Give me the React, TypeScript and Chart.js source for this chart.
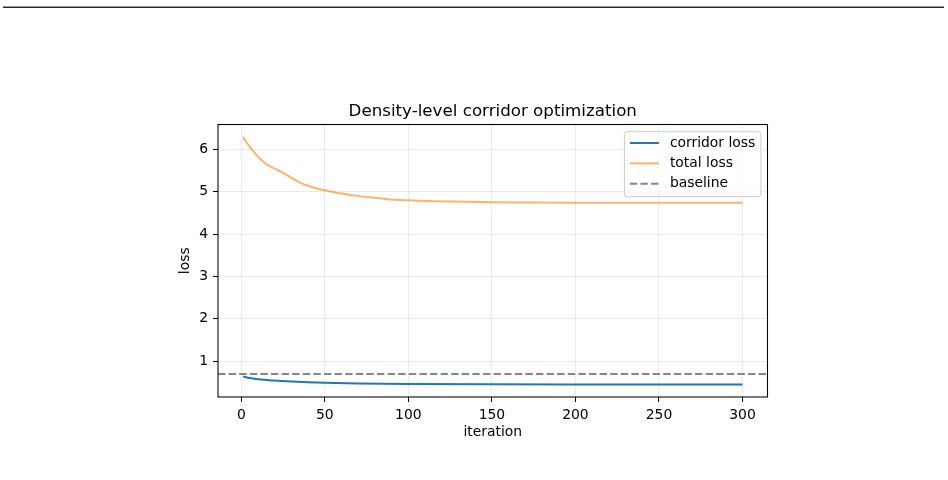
import React, { useEffect, useRef } from "react";
import { Chart, registerables } from "chart.js";

Chart.register(...registerables);

const TITLE = "Density-level corridor optimization";
const X_LABEL = "iteration";
const Y_LABEL = "loss";
const X_TICKS = [0, 50, 100, 150, 200, 250, 300];
const Y_TICKS = [1, 2, 3, 4, 5, 6];

const SERIES_NAMES = ["corridor loss", "total loss", "baseline"];

// corridor loss, sampled iterations
const CORRIDOR_ITERS = [1, 5, 10, 15, 20, 30, 40, 50, 70, 100, 150, 200, 250, 300];
const CORRIDOR_LOSS = [0.64, 0.6, 0.572, 0.555, 0.54, 0.518, 0.5, 0.488, 0.473, 0.461, 0.452, 0.448, 0.446, 0.445];

// total loss, sampled iterations
const TOTAL_ITERS = [1, 3, 5, 7, 10, 13, 16, 20, 25, 30, 33, 36, 41, 45, 51, 60, 70, 80, 90, 100, 110, 125, 150, 175, 200, 250, 300];
const TOTAL_LOSS = [6.3, 6.18, 6.07, 5.97, 5.83, 5.72, 5.63, 5.55, 5.45, 5.33, 5.26, 5.2, 5.13, 5.08, 5.03, 4.96, 4.9, 4.86, 4.82, 4.8, 4.785, 4.77, 4.755, 4.748, 4.744, 4.742, 4.742];

const BASELINE = 0.693;

const FONT = "DejaVu Sans";
const LABEL_SIZE = 13.9;
const TITLE_SIZE = 16.7;
const COLORS = ["#1f77b4", "rgba(255,127,14,0.6)", "rgba(128,128,128,0.95)"];
const DASH = [7.4, 3.2];

function paddedRange(values: number[]): [number, number] {
  const lo = Math.min(...values);
  const hi = Math.max(...values);
  const m = (hi - lo) * 0.05;
  return [lo - m, hi + m];
}

const [X_MIN, X_MAX] = paddedRange([...CORRIDOR_ITERS, ...TOTAL_ITERS]);
const [Y_MIN, Y_MAX] = paddedRange([...CORRIDOR_LOSS, ...TOTAL_LOSS, BASELINE]);

// axes title centred over the plotting area
const titlePlugin = {
  id: "axesTitle",
  afterDraw(chart: any) {
    const { ctx, chartArea: a } = chart;
    ctx.save();
    ctx.font = `${TITLE_SIZE}px "${FONT}"`;
    ctx.fillStyle = "#000";
    ctx.textAlign = "center";
    ctx.textBaseline = "alphabetic";
    ctx.fillText(TITLE, (a.left + a.right) / 2, a.top - 9);
    ctx.restore();
  },
};

const framePlugin = {
  id: "frame",
  afterDatasetsDraw(chart: any) {
    const { ctx, chartArea: a } = chart;
    ctx.save();
    ctx.strokeStyle = "#000";
    ctx.lineWidth = 1.07;
    ctx.strokeRect(a.left, a.top, a.right - a.left, a.bottom - a.top);
    ctx.restore();
  },
};

const legendPlugin = {
  id: "insideLegend",
  afterDraw(chart: any) {
    const { ctx, chartArea: a } = chart;
    ctx.save();
    ctx.font = `${LABEL_SIZE}px "${FONT}"`;
    const textW = Math.max(...SERIES_NAMES.map((t) => ctx.measureText(t).width));
    const pad = 5.5;
    const handleLen = 29;
    const handlePad = 11;
    const rowH = 20.4;
    const w = pad + handleLen + handlePad + textW + pad;
    const h = 65;
    const right = a.right - 6.67;
    const top = a.top + 7.2;
    const left = right - w;
    const r = 2.7;
    ctx.beginPath();
    ctx.moveTo(left + r, top);
    ctx.lineTo(right - r, top);
    ctx.arcTo(right, top, right, top + r, r);
    ctx.lineTo(right, top + h - r);
    ctx.arcTo(right, top + h, right - r, top + h, r);
    ctx.lineTo(left + r, top + h);
    ctx.arcTo(left, top + h, left, top + h - r, r);
    ctx.lineTo(left, top + r);
    ctx.arcTo(left, top, left + r, top, r);
    ctx.closePath();
    ctx.fillStyle = "rgba(255,255,255,0.8)";
    ctx.fill();
    ctx.strokeStyle = "#cccccc";
    ctx.lineWidth = 1;
    ctx.stroke();

    chart.data.datasets.forEach((ds: any, i: number) => {
      const y = top + 11.3 + i * rowH;
      const x0 = left + pad;
      ctx.beginPath();
      ctx.setLineDash(ds.borderDash || []);
      ctx.strokeStyle = ds.borderColor;
      ctx.lineWidth = ds.borderWidth;
      ctx.moveTo(x0, y);
      ctx.lineTo(x0 + handleLen, y);
      ctx.stroke();
      ctx.setLineDash([]);
      ctx.fillStyle = "#000";
      ctx.textBaseline = "middle";
      ctx.textAlign = "left";
      ctx.fillText(ds.label, x0 + handleLen + handlePad, y);
    });
    ctx.restore();
  },
};

export default function App() {
  const canvasRef = useRef<HTMLCanvasElement | null>(null);

  useEffect(() => {
    const canvas = canvasRef.current;
    if (!canvas) return;
    const tickFont = { family: FONT, size: LABEL_SIZE };
    const gridStyle = {
      color: "rgba(176,176,176,0.27)",
      lineWidth: 1,
      tickLength: 5,
      tickColor: "#000",
      tickWidth: 1,
    };
    const chart = new Chart(canvas, {
      type: "line",
      data: {
        datasets: [
          {
            label: SERIES_NAMES[0],
            data: CORRIDOR_ITERS.map((x, i) => ({ x, y: CORRIDOR_LOSS[i] })),
            borderColor: COLORS[0],
            borderWidth: 2,
            pointRadius: 0,
            cubicInterpolationMode: "monotone",
          },
          {
            label: SERIES_NAMES[1],
            data: TOTAL_ITERS.map((x, i) => ({ x, y: TOTAL_LOSS[i] })),
            borderColor: COLORS[1],
            borderWidth: 2,
            pointRadius: 0,
            cubicInterpolationMode: "monotone",
          },
          {
            label: SERIES_NAMES[2],
            data: [
              { x: X_MIN, y: BASELINE },
              { x: X_MAX, y: BASELINE },
            ],
            borderColor: COLORS[2],
            borderWidth: 2,
            borderDash: DASH,
            pointRadius: 0,
          },
        ],
      },
      options: {
        responsive: false,
        animation: false,
        devicePixelRatio: 1,
        layout: { padding: { left: 0, right: 180.5, top: 124.5, bottom: 0 } },
        plugins: {
          legend: { display: false },
          tooltip: { enabled: false },
          title: { display: false },
        },
        scales: {
          x: {
            type: "linear",
            min: X_MIN,
            max: X_MAX,
            afterBuildTicks: (s: any) => {
              s.ticks = X_TICKS.map((v) => ({ value: v }));
            },
            afterFit: (s: any) => {
              s.height = 83;
            },
            ticks: {
              font: tickFont,
              color: "#000",
              padding: 5,
              maxRotation: 0,
              autoSkip: false,
              callback: (v: any) => String(v),
            },
            grid: gridStyle,
            border: { display: false },
            title: {
              display: true,
              text: X_LABEL,
              color: "#000",
              font: tickFont,
              padding: { top: 0, bottom: 39.5 },
            },
          },
          y: {
            type: "linear",
            min: Y_MIN,
            max: Y_MAX,
            afterBuildTicks: (s: any) => {
              s.ticks = Y_TICKS.map((v) => ({ value: v }));
            },
            afterFit: (s: any) => {
              s.width = 218;
            },
            ticks: {
              font: tickFont,
              color: "#000",
              padding: 5,
              autoSkip: false,
              callback: (v: any) => String(v),
            },
            grid: gridStyle,
            border: { display: false },
            title: {
              display: true,
              text: Y_LABEL,
              color: "#000",
              font: tickFont,
              padding: { top: 177.5, bottom: 0 },
            },
          },
        },
      },
      plugins: [framePlugin, titlePlugin, legendPlugin],
    } as any);
    return () => chart.destroy();
  }, []);

  return (
    <div style={{ position: "fixed", left: 0, top: 0, width: 948, height: 480, background: "#fff" }}>
      <div style={{ position: "absolute", left: 3, top: 6, width: 941, height: 1, background: "#9a9a9a" }} />
      <div style={{ position: "absolute", left: 3, top: 7, width: 941, height: 1, background: "#2a2a2a" }} />
      <canvas ref={canvasRef} width={948} height={480} style={{ display: "block" }} />
    </div>
  );
}
